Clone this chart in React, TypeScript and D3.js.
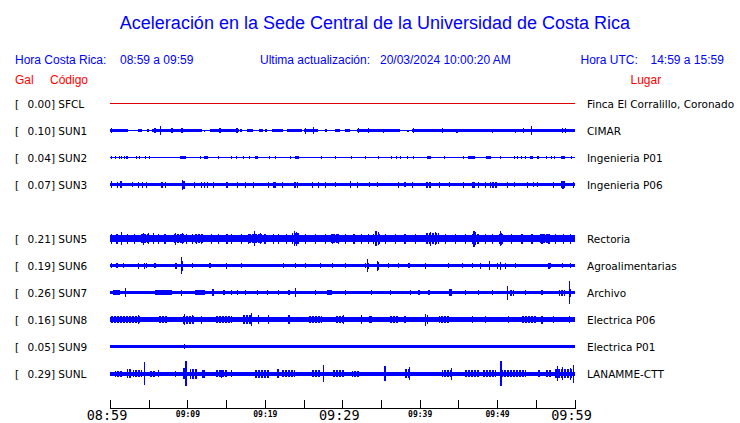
import React from "react";
import * as d3 from "d3";

// ---------- data ----------
const slots = ["SFCL", "SUN1", "SUN2", "SUN3", "SUN4", "SUN5", "SUN6", "SUN7", "SUN8", "SUN9", "SUNL"];
const codes = ["SFCL", "SUN1", "SUN2", "SUN3", "SUN5", "SUN6", "SUN7", "SUN8", "SUN9", "SUNL"];
const gal = [0.0, 0.1, 0.04, 0.07, 0.21, 0.19, 0.26, 0.16, 0.05, 0.29];
const places = [
  "Finca El Corralillo, Coronado",
  "CIMAR",
  "Ingenieria P01",
  "Ingenieria P06",
  "Rectoria",
  "Agroalimentarias",
  "Archivo",
  "Electrica P06",
  "Electrica P01",
  "LANAMME-CTT",
];
// continuous background half-amplitude of each trace (relative counts)
const baseAmp = [0, 0.5, 0.5, 1.7, 3.7, 1.5, 1.6, 2.8, 1.2, 2.0];

// time axis: minutes after 08:59
const tickMinutes = [0, 5, 10, 15, 20, 25, 30, 35, 40, 45, 50, 55, 60];
const labelMinutes = [0, 10, 20, 30, 40, 50, 60];
const labelTexts = ["08:59", "09:09", "09:19", "09:29", "09:39", "09:49", "09:59"];
const bigLabels = ["08:59", "09:29", "09:59"];

// bursts: [startMin, endMin, halfAmp]
const burstsSUN1: [number, number, number][] = [
  [0, 2.37, 1.5], [3.66, 4.18, 1.2], [4.74, 5.09, 1.2], [5.4, 11.85, 1.7], [12.1, 12.3, 1],
  [12.9, 16.6, 1.7], [16.8, 17.0, 1.2], [17.7, 18.5, 1.3], [19.2, 19.8, 1.3], [20.0, 20.3, 1.2],
  [20.9, 22.4, 1.5], [22.8, 24.8, 1.5], [25.0, 26.9, 1.7], [27.8, 28.0, 1.2], [29.1, 29.7, 1.3],
  [30.4, 31.0, 1.2], [31.9, 37.5, 1.7], [38.4, 38.6, 1], [39.0, 60, 1.7],
];
const spikesSUN1: [number, number][] = [
  [0.2, 2.5], [5.8, 2.5], [6.47, 4.3], [8.0, 2.3], [9.3, 2.2], [14.2, 2.3], [16.4, 2.2],
  [25.2, 3], [26.3, 3.3], [32.1, 2.5], [33.4, 2.2], [35.3, 2], [39.2, 2.5], [42.9, 2.8],
  [44.8, 2], [49.4, 2], [52.4, 2], [53.4, 2.2], [54.4, 4.3], [58.4, 2.3], [58.8, 2.3],
];
const burstsSUN2: [number, number, number][] = [
  [0.1, 0.2, 1.3], [0.6, 0.7, 1.3], [1.1, 1.2, 1.3], [1.4, 1.6, 1.3], [1.8, 1.9, 1.3], [2.1, 2.3, 1.3],
  [3.4, 3.5, 1.3], [3.8, 3.9, 1.3], [4.5, 4.6, 1.3], [5.1, 5.2, 1.3], [9.0, 9.8, 1.4], [11.6, 11.7, 1.3],
  [12.2, 12.6, 1.5], [13.9, 14.0, 1.3], [15.6, 15.7, 1.3], [16.3, 16.4, 1.5], [17.2, 17.3, 1.3],
  [18.0, 18.1, 1.3], [18.75, 19.1, 1.5], [20.5, 20.6, 1.3], [21.3, 21.4, 1.5], [23.2, 23.3, 1.3],
  [23.9, 24.4, 1.5], [27.2, 27.3, 1.3], [29.1, 29.2, 1.3], [31.1, 31.2, 1.3], [33.0, 33.1, 1.3],
  [34.6, 34.7, 1.3], [36.3, 36.4, 1.3], [36.9, 37.0, 1.3], [37.4, 37.5, 1.3], [38.4, 38.5, 1.3],
  [39.2, 39.3, 1.3], [40.95, 41.4, 1.3], [43.2, 43.3, 1.3], [45.6, 45.7, 1.3], [46.3, 47.1, 1.6],
  [48.6, 49.2, 1.6], [50.4, 50.5, 1.3], [52.2, 52.3, 1.3], [52.6, 52.7, 1.3], [53.1, 53.2, 1.3],
  [53.6, 53.7, 1.3], [54.3, 54.7, 1.6], [55.2, 55.4, 1.3], [56.3, 56.4, 1.3], [56.9, 57.0, 1.3],
  [57.3, 57.4, 1.3], [58.2, 58.8, 1.6], [59.5, 59.6, 1.3],
];
const spikesSUN2: [number, number][] = [];
const burstsSUN3: [number, number, number][] = [
  [9.3, 9.7, 4.0], [21.1, 21.4, 3.0], [23.7, 24.3, 3.0], [40.7, 41.4, 3.0], [46.8, 47.2, 3.0],
  [49.1, 50.0, 3.0], [58.2, 58.8, 3.3],
];
const spikesSUN3: [number, number][] = [
  [0.2, 3.2], [1.0, 3], [1.4, 3.3], [2.9, 2.7], [3.7, 3], [4.2, 3], [4.7, 3], [6.7, 3], [7.2, 3],
  [9.4, 5], [10.9, 3], [11.8, 3], [12.2, 3], [12.6, 3], [13.4, 3], [15.1, 3], [16.5, 3], [17.5, 3],
  [18.5, 3], [20.5, 3], [22.3, 3], [26.1, 3], [26.9, 3], [27.8, 3], [29.1, 2.7], [31.1, 3.2],
  [32.0, 3], [33.5, 2.7], [34.5, 2.7], [37.3, 3], [38.1, 2.7], [39.1, 3], [42.5, 3], [43.8, 2.7],
  [45.7, 3], [47.6, 3], [48.5, 3], [51.3, 3], [52.2, 2.7], [53.9, 3], [54.7, 2.7], [55.2, 2.7],
  [57.3, 3], [58.5, 4], [59.9, 3],
];
const burstsSUN5: [number, number, number][] = [
  [4.0, 5.2, 4.6], [8.2, 9.6, 4.6], [11.0, 12.0, 4.4], [17.8, 19.6, 4.6], [23.5, 24.4, 5.6],
  [28.5, 29.6, 4.4], [34.0, 35.0, 5.0], [40.7, 42.5, 5.6], [46.8, 47.6, 5.0], [50.2, 50.9, 5.0],
  [55.5, 56.6, 4.4],
];
const spikesSUN5: [number, number][] = [
  [0.2, 5], [0.9, 5], [1.5, 6.3], [2.2, 5], [3.2, 5], [4.3, 6], [4.96, 5.5], [5.6, 5.5], [6.25, 5],
  [7.1, 5], [8.4, 6], [9.35, 5.5], [9.9, 5], [10.6, 5], [11.2, 5], [11.85, 5], [13.1, 5], [14.0, 5],
  [15.1, 5], [15.7, 5], [17.0, 5], [17.9, 5], [18.7, 7.5], [19.4, 5.5], [20.0, 5], [21.1, 5],
  [21.8, 5], [22.8, 5], [23.8, 7.5], [24.1, 7], [25.2, 5], [26.5, 5], [27.8, 5], [28.7, 5],
  [29.5, 5], [30.4, 5], [31.5, 5], [32.5, 5], [33.4, 5], [34.35, 7.5], [34.7, 6.5], [35.6, 5],
  [36.9, 5], [38.1, 5], [39.4, 5], [41.4, 7], [42.0, 6.5], [43.3, 5], [44.6, 5], [45.9, 5],
  [47.0, 8], [47.2, 6.5], [48.5, 5], [49.4, 5], [50.4, 7.5], [50.6, 6], [51.9, 5], [53.2, 5],
  [54.5, 5], [55.8, 5], [56.7, 5], [57.5, 5], [58.6, 5], [59.5, 5],
];
const burstsSUN6: [number, number, number][] = [];
const spikesSUN6: [number, number][] = [
  [0.2, 2.5], [0.9, 2.5], [1.7, 2.5], [3.7, 3], [4.4, 3], [4.7, 2.5], [5.8, 2.5], [8.4, 3],
  [8.6, 3], [9.2, 8.3], [9.35, 5], [10.6, 2.5], [12.9, 2.5], [15.0, 3], [17.0, 2.5], [22.4, 2.5],
  [23.9, 2.5], [25.2, 2.5], [27.2, 2.5], [28.7, 2.5], [30.4, 2.5], [33.0, 2.5], [33.2, 6.5],
  [33.4, 3], [34.5, 5], [34.7, 4], [36.0, 2.5], [37.3, 2.5], [38.6, 2.5], [40.7, 3], [43.75, 2.5],
  [45.5, 2.5], [46.8, 2.5], [47.8, 3], [49.0, 4.3], [50.0, 3], [50.4, 4], [51.1, 3], [52.4, 2.5],
  [56.7, 3], [56.9, 2.5], [58.4, 2.5], [59.5, 2.5],
];
const burstsSUN7: [number, number, number][] = [
  [0.4, 1.3, 2.5], [5.8, 8.0, 2.2], [11.0, 12.3, 2.3], [28.0, 28.7, 2.7], [43.75, 44.2, 3.5],
  [51.5, 52.2, 3], [58.0, 58.8, 3],
];
const spikesSUN7: [number, number][] = [
  [2.0, 4.5], [6.2, 2.8], [6.8, 2.8], [7.5, 2.8], [9.2, 3], [11.5, 2.7], [13.3, 3.3], [14.7, 2.5],
  [15.7, 2.5], [16.5, 2.7], [17.5, 2.5], [19.0, 2.7], [20.3, 2.5], [21.8, 2.7], [23.1, 2.5],
  [23.9, 4.3], [26.5, 2.5], [30.4, 2.7], [33.8, 2.7], [36.2, 2.5], [38.8, 2.5], [39.9, 2.7],
  [41.2, 2.5], [45.9, 2.5], [47.6, 2.5], [49.4, 2.5], [51.3, 7], [53.7, 2.5], [55.8, 2.5],
  [59.3, 11.3], [59.5, 4],
];
const burstsSUN8: [number, number, number][] = [
  [0, 3.9, 3.5], [6.25, 7.5, 3.5], [9.3, 10.8, 4], [13.6, 15.7, 3.5], [17.0, 18.3, 4.2],
  [25.6, 27.4, 3.5], [29.1, 30.4, 3.8], [33.4, 33.8, 3.8], [36.0, 37.3, 3.5], [42.5, 43.8, 3.5],
  [53.2, 55.0, 3.8],
];
const spikesSUN8: [number, number][] = [
  [3.7, 4.5], [9.6, 5.5], [10.6, 4.7], [11.85, 4], [18.3, 6.5], [19.2, 4.7], [20.5, 4.7],
  [23.1, 4.3], [30.2, 4.7], [32.5, 4.3], [38.1, 3.8], [40.7, 6], [40.95, 4.7], [46.8, 3.8],
  [48.5, 3.8], [51.5, 3.8], [55.8, 4], [57.3, 3.5], [59.3, 3.5],
];
const burstsSUN9: [number, number, number][] = [
  [0.65, 1.1, 1.7], [2.6, 3.0, 1.7], [5.0, 5.5, 1.7], [7.1, 7.5, 1.7], [11.4, 11.8, 1.7],
  [13.6, 14.0, 1.7], [14.9, 15.3, 1.7], [17.5, 17.9, 1.7], [20.0, 20.4, 1.7], [21.8, 22.2, 1.7],
  [25.2, 25.6, 1.7], [27.8, 28.2, 1.7], [29.5, 29.9, 1.7], [32.1, 32.5, 1.7], [35.6, 36.0, 1.7],
  [38.1, 38.5, 1.7], [39.9, 40.3, 1.7], [42.5, 42.9, 1.7], [45.0, 45.4, 1.7], [47.6, 48.0, 1.7],
  [50.2, 50.6, 1.7], [52.8, 53.2, 1.7], [55.4, 55.8, 1.7], [58.0, 58.4, 1.7],
];
const spikesSUN9: [number, number][] = [[9.6, 2.7]];
const burstsSUNL: [number, number, number][] = [
  [0.65, 1.5, 3], [2.2, 2.8, 4.5], [3.0, 4.1, 3.5], [5.0, 5.8, 3], [9.35, 9.9, 5.5], [10.3, 11.2, 5],
  [11.85, 12.3, 4], [13.6, 15.3, 3.5], [18.75, 20.5, 4], [21.55, 21.8, 4.5], [22.2, 23.9, 3.5],
  [26.1, 27.2, 3.5], [28.7, 30.4, 3.5], [31.25, 32.1, 3], [38.1, 38.8, 4.5], [42.9, 44.2, 3.5],
  [45.9, 47.6, 3.5], [48.1, 49.8, 3.5], [50.6, 53.7, 3.5], [56.2, 57.1, 3.5], [57.3, 59.7, 4.5],
];
const spikesSUNL: [number, number][] = [
  [4.44, 11.5], [6.25, 3.5], [8.4, 3], [9.8, 12.5], [14.4, 4], [15.7, 3.5], [27.6, 8.5],
  [35.5, 7.5], [38.7, 6.5], [44.1, 6], [50.5, 12.7], [55.4, 3.5], [57.8, 7.5], [58.4, 6.5],
  [59.5, 6], [59.9, 9],
];

const burstTable: Record<string, [number, number, number][]> = {
  SFCL: [], SUN1: burstsSUN1, SUN2: burstsSUN2, SUN3: burstsSUN3, SUN5: burstsSUN5, SUN6: burstsSUN6,
  SUN7: burstsSUN7, SUN8: burstsSUN8, SUN9: burstsSUN9, SUNL: burstsSUNL,
};
const spikeTable: Record<string, [number, number][]> = {
  SFCL: [], SUN1: spikesSUN1, SUN2: spikesSUN2, SUN3: spikesSUN3, SUN5: spikesSUN5, SUN6: spikesSUN6,
  SUN7: spikesSUN7, SUN8: spikesSUN8, SUN9: spikesSUN9, SUNL: spikesSUNL,
};

// ---------- layout ----------
const W = 740;
const H = 423;
const BLUE = "#0000ff";
const RED = "#ff0000";
const SANS = "'Liberation Sans', Arial, sans-serif";
const DEJAVU = "'DejaVu Sans', sans-serif";
const MONO = "'DejaVu Sans Mono', monospace";

export default function App() {
  const x = d3.scaleLinear().domain([0, 60]).range([110, 574.5]);
  const y = d3.scalePoint<string>().domain(slots).range([103.5, 373.5]);
  const amp = d3.scaleLinear().domain([0, 1]).range([0, 1]);

  return (
    <svg
      width={W}
      height={H}
      viewBox={`0 0 ${W} ${H}`}
      style={{ position: "absolute", left: 0, top: 0, background: "#fff" }}
    >
      <defs>
        <pattern id="comb" patternUnits="userSpaceOnUse" x={0} y={0} width={3} height={4}>
          <rect x={0} y={0} width={2} height={4} fill={BLUE} />
        </pattern>
      </defs>
      <rect x={0} y={0} width={W} height={H} fill="#fff" />
      <text x={375} y={28.5} textAnchor="middle" fontFamily={SANS} fontSize={18} fill={BLUE}>
        Aceleración en la Sede Central de la Universidad de Costa Rica
      </text>

      <g fontFamily={SANS} fontSize={12} fill={BLUE}>
        <text x={15} y={64}>Hora Costa Rica:</text>
        <text x={120} y={64}>08:59 a 09:59</text>
        <text x={260} y={64}>Ultima actualización:</text>
        <text x={380} y={64}>20/03/2024 10:00:20 AM</text>
        <text x={580.5} y={64}>Hora UTC:</text>
        <text x={650.5} y={64}>14:59 a 15:59</text>
      </g>
      <g fontFamily={SANS} fontSize={12} fill={RED}>
        <text x={15} y={84}>Gal</text>
        <text x={50} y={84}>Código</text>
        <text x={630.5} y={84}>Lugar</text>
      </g>

      {codes.map((code, i) => {
        const cy = y(code) as number;
        const base = Math.max(0.5, amp(baseAmp[i]));
        return (
          <g key={code}>
            <text x={15} y={cy + 4} fontFamily={DEJAVU} fontSize={10.5} fill="#000">[</text>
            <text x={27.5} y={cy + 4} fontFamily={DEJAVU} fontSize={10.5} fill="#000">
              {`${gal[i].toFixed(2)}] ${code}`}
            </text>
            <text x={587} y={cy + 4} fontFamily={DEJAVU} fontSize={10.5} fill="#000">
              {places[i]}
            </text>
            {code === "SFCL" ? (
              <line x1={x(0)} x2={x(60)} y1={cy} y2={cy} stroke="#dd0000" strokeWidth={1} shapeRendering="crispEdges" />
            ) : (
              <g shapeRendering="crispEdges">
                {burstTable[code].map(([t0, t1, a], k) => {
                  const w = Math.max(1, x(t1) - x(t0));
                  const solid = w < 4 || a < 3;
                  return (
                    <rect
                      key={"b" + k}
                      x={x(t0)}
                      width={w}
                      y={cy - amp(a)}
                      height={2 * amp(a)}
                      fill={solid ? BLUE : "url(#comb)"}
                    />
                  );
                })}
                <rect x={x(0)} width={x(60) - x(0)} y={cy - base} height={2 * base} fill={BLUE} />
                {spikeTable[code].map(([t, a], k) => (
                  <rect key={"s" + k} x={x(t) - 0.5} width={1.2} y={cy - amp(a)} height={2 * amp(a)} fill={BLUE} />
                ))}
              </g>
            )}
          </g>
        );
      })}

      <g shapeRendering="crispEdges" stroke="#000" strokeWidth={1}>
        <line x1={x(0)} x2={x(60)} y1={408.5} y2={408.5} />
        {tickMinutes.map((m) => (
          <line key={m} x1={Math.round(x(m)) + 0.5} x2={Math.round(x(m)) + 0.5} y1={400} y2={408.5} />
        ))}
      </g>
      {labelMinutes.map((m, i) => {
        const big = bigLabels.includes(labelTexts[i]);
        return (
          <text
            key={m}
            x={x(m) + (big ? -3 : 0.5)}
            y={big ? 420 : 417}
            textAnchor="middle"
            fontFamily={MONO}
            fontSize={big ? 13.5 : 8}
            fontWeight={big ? "normal" : "bold"}
            fill="#000"
          >
            {labelTexts[i]}
          </text>
        );
      })}
    </svg>
  );
}
